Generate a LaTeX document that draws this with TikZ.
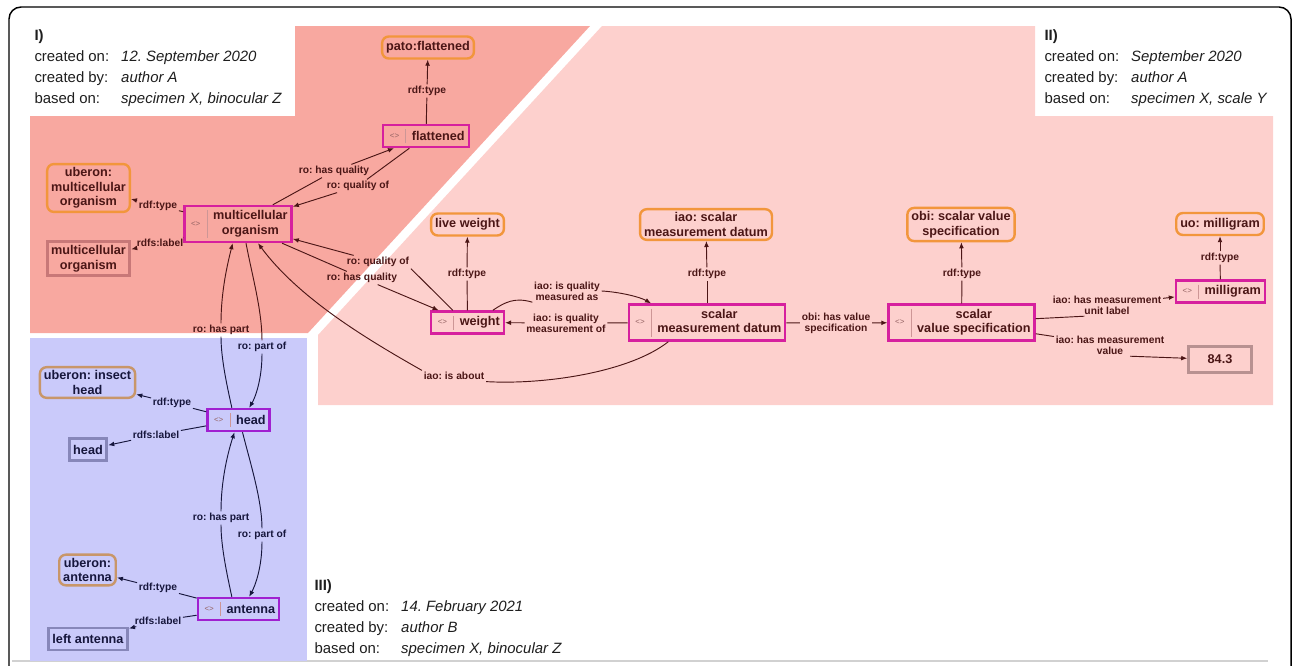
\documentclass[tikz,border=0pt]{standalone}
\usepackage{fontspec}
\setmainfont{Liberation Sans}
\usetikzlibrary{arrows.meta}
\frenchspacing

\definecolor{redbg}{RGB}{248,168,160}
\definecolor{pinkbg}{RGB}{253,208,205}
\definecolor{bluebg}{RGB}{202,202,250}
\definecolor{instm}{RGB}{214,32,158}
\definecolor{instp}{RGB}{160,32,208}
\definecolor{clsor}{RGB}{242,150,60}
\definecolor{clstan}{RGB}{200,150,105}
\definecolor{litred}{RGB}{200,120,120}
\definecolor{litpink}{RGB}{184,145,145}
\definecolor{litblue}{RGB}{135,135,185}
\definecolor{ink}{RGB}{75,22,22}
\definecolor{inkb}{RGB}{22,22,60}
\definecolor{sepc}{RGB}{205,150,150}
\definecolor{iconc}{RGB}{150,100,100}
\definecolor{hdrc}{RGB}{30,30,30}

\newcommand{\ndfont}{\fontsize{9.5}{11}\selectfont\bfseries}
\newcommand{\edfont}{\fontsize{7.7}{8.4}\selectfont\bfseries}
\newcommand{\hdfont}{\fontsize{11.2}{15.75}\selectfont}
\newcommand{\twoline}[2]{\begin{tabular}{@{}c@{}}#1\\#2\end{tabular}}
\newcommand{\ipad}{\hspace*{18.5pt}}

\tikzset{every picture/.style={line width=0.75pt},
  cls/.style={draw=clsor, line width=1.8pt, rounded corners=5pt, inner xsep=3pt, inner ysep=2.5pt, minimum height=16.5pt, align=center, font=\ndfont, text=ink},
  clsb/.style={cls, draw=clstan, text=inkb},
  inst/.style={draw=instm, line width=1.8pt, inner xsep=3pt, inner ysep=2.5pt, minimum height=16.5pt, font=\ndfont, text=ink,
    path picture={
      \draw[sepc, line width=0.7pt, shorten <=3pt, shorten >=3pt] ([xshift=17pt]path picture bounding box.north west) -- ([xshift=17pt]path picture bounding box.south west);
      \node[text=iconc, font=\fontsize{6}{6}\selectfont, inner sep=0pt, minimum size=0pt] at ([xshift=8.5pt]path picture bounding box.west) {<>};
    }},
  instb/.style={inst, draw=instp, text=inkb},
  lit/.style={draw=litred, line width=2.2pt, inner xsep=3pt, inner ysep=2.5pt, minimum height=16.5pt, align=center, font=\ndfont, text=ink},
  litb/.style={lit, draw=litblue, text=inkb},
  lbl/.style={font=\edfont, text=ink, inner sep=1pt, align=center},
  lblb/.style={lbl, text=inkb},
  edge/.style={draw=ink, line width=0.7pt},
  edgeb/.style={edge, draw=inkb},
  arr/.style={edge, -{Latex[length=4.5pt,width=3.6pt]}},
  arrb/.style={arr, draw=inkb},
  hdr/.style={anchor=north west, inner sep=0pt, font=\hdfont, text=hdrc}
}

\begin{document}
\begin{tikzpicture}[x=0.75pt,y=0.75pt,yscale=-1,xscale=1]
\useasboundingbox (0,0) rectangle (1295,665);

%Shape: frame
\draw[line width=1.1pt, rounded corners=9pt] (9,700) -- (9,7) -- (1291,7) -- (1291,700);
\draw[black!18, line width=1.5pt] (12,661) -- (1268,661);

%Shape: regions
\fill[redbg] (30,116) -- (295,116) -- (295,26) -- (590,26) -- (308,333) -- (30,333) -- cycle;
\fill[pinkbg] (318,405) -- (318,335) -- (602,26) -- (1035,26) -- (1035,116) -- (1273,116) -- (1273,405) -- cycle;
\fill[bluebg] (30,338) rectangle (307,661);

% Text Node
\node[hdr] (hdI) at (34,25) {\begin{tabular}{@{}l@{\hspace{9pt}}l@{}}\multicolumn{2}{@{}l}{\textbf{I)}}\\created on: & \textit{12. September 2020}\\created by: & \textit{author A}\\based on: & \textit{specimen X, binocular Z}\end{tabular}};
% Text Node
\node[hdr] (hdII) at (1044,25) {\begin{tabular}{@{}l@{\hspace{9pt}}l@{}}\multicolumn{2}{@{}l}{\textbf{II)}}\\created on: & \textit{September 2020}\\created by: & \textit{author A}\\based on: & \textit{specimen X, scale Y}\end{tabular}};
% Text Node
\node[hdr] (hdIII) at (314,575) {\begin{tabular}{@{}l@{\hspace{9pt}}l@{}}\multicolumn{2}{@{}l}{\textbf{III)}}\\created on: & \textit{14. February 2021}\\created by: & \textit{author B}\\based on: & \textit{specimen X, binocular Z}\end{tabular}};

%Nodes: region I
\node[cls] (patoF) at (428,47.5) {pato:flattened};
\node[inst] (fl) at (426,136) {\ipad flattened};
\node[cls] (ubMO) at (88.5,188) {uberon:\\multicellular\\organism};
\node[inst] (mo) at (238,224) {\ipad\twoline{multicellular}{organism}};
\node[lit] (litMO) at (88.5,258.5) {multicellular\\organism};

%Nodes: region II
\node[cls] (lw) at (467.5,224.5) {live weight};
\node[inst] (wt) at (467.5,322.5) {\ipad weight};
\node[cls] (iaoSMD) at (706,224.5) {iao: scalar\\measurement datum};
\node[inst] (smd) at (707,322.5) {\ipad\twoline{scalar}{measurement datum}};
\node[cls] (obiSVS) at (961,224.5) {obi: scalar value\\specification};
\node[inst] (svs) at (961.5,322.5) {\ipad\twoline{scalar}{value specification}};
\node[cls] (uoMG) at (1220,224) {uo: milligram};
\node[inst] (mg) at (1220.5,291.5) {\ipad milligram};
\node[lit, draw=litpink, minimum width=47pt, minimum height=19pt] (v84) at (1220,359.5) {84.3};

%Nodes: region III
\node[clsb] (uIH) at (87.5,382.5) {uberon: insect\\head};
\node[instb] (hd) at (238.5,420) {\ipad head};
\node[litb] (hdL) at (88,449.5) {head};
\node[clsb] (uA) at (87.5,570) {uberon:\\antenna};
\node[instb] (ant) at (238.5,609) {\ipad antenna};
\node[litb] (antL) at (88,639) {left antenna};

% Edge labels
\node[lbl] (tFl) at (427,91) {rdf:type};
\node[lbl] (hqFl) at (334,171) {ro: has quality};
\node[lbl] (qoFl) at (358,186) {ro: quality of};
\node[lbl] (tMO) at (158,206) {rdf:type};
\node[lbl] (lMO) at (160,243) {rdfs:label};
\node[lbl] (qoWt) at (378,262) {ro: quality of};
\node[lbl] (hqWt) at (362,278) {ro: has quality};
\node[lbl] (tWt) at (467,274) {rdf:type};
\node[lbl] (qmAs) at (567,291) {iao: is quality\\measured as};
\node[lbl] (qmOf) at (566,323) {iao: is quality\\measurement of};
\node[lbl] (about) at (454,376) {iao: is about};
\node[lbl] (tSMD) at (707,274) {rdf:type};
\node[lbl] (hvs) at (836,323) {obi: has value\\specification};
\node[lbl] (tSVS) at (962,274) {rdf:type};
\node[lbl] (unit) at (1107,305) {iao: has measurement\\unit label};
\node[lbl] (val) at (1110,345) {iao: has measurement\\value};
\node[lbl] (tMG) at (1220,258) {rdf:type};
\node[lbl] (hpMO) at (221,330) {ro: has part};
\node[lblb] (poMO) at (262,347) {ro: part of};
\node[lblb] (tHd) at (172,403) {rdf:type};
\node[lblb] (lHd) at (156,435) {rdfs:label};
\node[lblb] (hpHd) at (221,518) {ro: has part};
\node[lblb] (poHd) at (262,535) {ro: part of};
\node[lblb] (tAnt) at (158,588) {rdf:type};
\node[lblb] (lAnt) at (158,621) {rdfs:label};

%Straight Lines: region I
\draw[edge] (fl) -- (tFl);
\draw[arr] (tFl) -- (patoF);
\draw[edge] (mo) -- (hqFl);
\draw[arr] (hqFl) -- (fl);
\draw[edge] (fl) -- (qoFl);
\draw[arr] (qoFl) -- (mo);
\draw[edge] (mo) -- (tMO);
\draw[arr] (tMO) -- (ubMO);
\draw[edge] (mo) -- (lMO);
\draw[arr] (lMO) -- (litMO);
\draw[edge] ([xshift=-11pt]wt.north) -- (qoWt.south east);
\draw[arr] (qoWt) -- (mo);
\draw[edge] (mo) -- (hqWt);
\draw[arr] (hqWt) -- (wt);

%Straight Lines: region II
\draw[edge] (wt) -- (tWt);
\draw[arr] (tWt) -- (lw);
\draw[edge] ([xshift=19pt]wt.north) .. controls (505,302) and (515,297) .. (qmAs.south west);
\draw[arr] (qmAs.east) .. controls (620,292) and (640,297) .. ([xshift=-42pt]smd.north);
\draw[edge] (smd) -- (qmOf);
\draw[arr] (qmOf) -- (wt);
\draw[edge] ([xshift=-29pt]smd.south) .. controls (630,372) and (545,385) .. (about.south east);
\draw[arr] (about.north west) .. controls (372,342) and (300,300) .. ([xshift=15pt]mo.south);
\draw[edge] (smd) -- (tSMD);
\draw[arr] (tSMD) -- (iaoSMD);
\draw[edge] (smd) -- (hvs);
\draw[arr] (hvs) -- (svs);
\draw[edge] (svs) -- (tSVS);
\draw[arr] (tSVS) -- (obiSVS);
\draw[edge] (svs) -- ([xshift=-17pt]unit.south);
\draw[arr] (unit) -- (mg);
\draw[edge] (svs) -- (val);
\draw[arr] ([xshift=15pt]val.south) -- (v84);
\draw[edge] (mg) -- (tMG);
\draw[arr] (tMG) -- (uoMG);

%Curve Lines: region III
\draw[edgeb] ([xshift=-5pt]hd.north) .. controls (228,390) and (221,360) .. (hpMO.south);
\draw[arr] (hpMO.north) .. controls (221,290) and (228,262) .. ([xshift=-4pt]mo.south);
\draw[edge] ([xshift=6pt]mo.south) .. controls (252,275) and (262,310) .. (poMO.north);
\draw[arrb] (poMO.south) .. controls (262,380) and (255,398) .. ([xshift=8pt]hd.north);
\draw[edgeb] ([xshift=-5pt]ant.north) .. controls (226,570) and (221,545) .. (hpHd.south);
\draw[arrb] (hpHd.north) .. controls (221,480) and (228,452) .. ([xshift=-3pt]hd.south);
\draw[edgeb] ([xshift=3pt]hd.south) .. controls (250,462) and (262,500) .. (poHd.north);
\draw[arrb] (poHd.south) .. controls (262,568) and (255,586) .. ([xshift=8pt]ant.north);
\draw[edgeb] (hd) -- (tHd);
\draw[arrb] (tHd) -- (uIH);
\draw[edgeb] (hd) -- (lHd);
\draw[arrb] (lHd) -- (hdL);
\draw[edgeb] (ant) -- (tAnt);
\draw[arrb] (tAnt) -- (uA);
\draw[edgeb] (ant) -- (lAnt);
\draw[arrb] (lAnt) -- (antL);

\end{tikzpicture}
\end{document}
